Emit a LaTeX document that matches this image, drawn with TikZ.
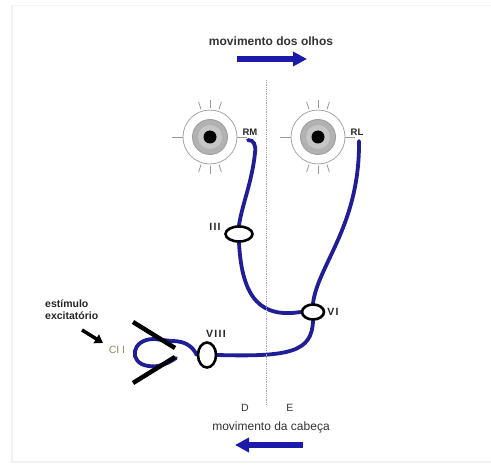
\documentclass[tikz,border=0pt]{standalone}
\usepackage{fontspec}
\setmainfont{Liberation Sans}
\usetikzlibrary{shapes.geometric,arrows.meta}
\definecolor{nerve}{RGB}{32,30,150}
\definecolor{moveblue}{RGB}{28,26,170}
\definecolor{canallabel}{RGB}{140,138,100}
\pgfdeclarelayer{paper}
\pgfdeclarelayer{nerves}
\pgfsetlayers{paper,nerves,main}

\begin{document}
\begin{tikzpicture}[x=1pt,y=-1pt,
  nerve/.style={draw=nerve,line width=3.8pt,line cap=round},
  nucleus/.style={ellipse,draw=black,line width=2.6pt,fill=white,inner sep=0pt},
  roman/.style={font=\fontsize{10.5}{12}\selectfont\bfseries\addfontfeature{LetterSpace=12},text=black!85,inner sep=0pt},
  caption/.style={text=black!80,inner sep=0pt},
  sidelabel/.style={font=\fontsize{10.5}{12}\selectfont,text=black!80,inner sep=0pt},
  eyeball/.style={circle,draw=gray!70,line width=0.8pt,fill=white,minimum size=54pt,inner sep=0pt},
  eyetick/.style={draw=gray!80,line width=0.8pt},
  movearrow/.style={draw=moveblue,line width=6pt,-{Triangle[length=14pt,width=14pt]}},
  stimarrow/.style={draw=black,line width=3.5pt,-{Triangle[length=8pt,width=10pt]}},
  cupula/.style={draw=black,line width=4.5pt}
]
\useasboundingbox (0,0) rectangle (491,468);
\begin{pgfonlayer}{paper}
  \fill[white] (0,0) rectangle (491,468);
  \draw[black!4,line width=1pt] (12,6) -- (491,6);
  \draw[black!5,line width=1.5pt] (12,6) -- (12,462) -- (491,462);
\end{pgfonlayer}

% midline between right (D) and left (E) sides
\coordinate (midtop) at (266,80);
\coordinate (midbot) at (266,405);
\draw[gray!70,line width=0.8pt,densely dotted] (midtop) -- (midbot);

% eye movement arrow
\node[caption,font=\fontsize{12}{14}\selectfont\bfseries] (eyemove) at (271,41) {movimento dos olhos};
\coordinate (eyetail) at (237,59);
\coordinate (eyehead) at (307,59);
\draw[movearrow] (eyetail) -- (eyehead);

% the two eyes
\foreach \name/\cx in {eyeR/210,eyeL/318}{
  \node[eyeball] (\name) at (\cx,137) {};
  \fill[gray!60] (\name.center) circle (17.5);
  \draw[gray!75,line width=0.9pt] (\name.center) circle (17.5);
  \fill[gray!45] (\name.center) circle (12);
  \fill[black] (\name.center) circle (6.5);
  \draw[eyetick] (\name.west) -- ++(-11,0);
  \draw[eyetick] (\name.east) -- ++(10,0);
  \foreach \a in {72,90,108,252,270,288}
    \draw[eyetick] (\name.center) ++(\a:29) -- ++(\a:8);
}
\node[roman,font=\fontsize{9.5}{11}\selectfont\bfseries] (RM) at (250,132) {RM};
\node[roman,font=\fontsize{9.5}{11}\selectfont\bfseries] (RL) at (357,132) {RL};
\coordinate (rmend) at (248,140);
\coordinate (rlend) at (359,141);

% nuclei
\node[nucleus,minimum width=27pt,minimum height=15pt] (III) at (239,234) {};
\node[nucleus,minimum width=22pt,minimum height=15pt] (VI) at (313,312) {};
\node[nucleus,minimum width=18pt,minimum height=25pt] (VIII) at (207,355) {};
\node[roman] (IIIlab) at (215,227) {III};
\node[roman] (VIlab) at (333,312) {VI};
\node[roman] (VIIIlab) at (216,334) {VIII};

% nerve pathways
\begin{pgfonlayer}{nerves}
  \draw[nerve] (rmend) .. controls (254,140) and (256,145) .. (255,153)
    .. controls (252,182) and (242,205) .. (III.north);
  \draw[nerve] (III.south) .. controls (242,300) and (262,318) .. (VI.west);
  \draw[nerve] (rlend) .. controls (360,225) and (318,265) .. (VI.north);
  \draw[nerve] (VI.south) .. controls (312,352) and (290,357) .. (VIII.east);
  \draw[nerve] (VIII.west) .. controls (193,347) and (186,341) .. (172,341)
    -- (154,339) .. controls (131,339) and (128,363) .. (148,366)
    .. controls (160,368) and (170,362) .. (176,358);
\end{pgfonlayer}

% semicircular canal with its cupula
\coordinate (cupA) at (133,322);
\coordinate (cupB) at (175,348);
\coordinate (cupC) at (175,357);
\coordinate (cupD) at (133,383);
\draw[cupula] (cupA) -- (cupB);
\draw[cupula] (cupC) -- (cupD);
\node[font=\fontsize{10.5}{12}\selectfont,text=canallabel,inner sep=0pt] (canal) at (117,350) {CI I};

% excitatory stimulus
\node[font=\fontsize{10.5}{12}\selectfont\bfseries,text=black!85,align=left,anchor=west,inner sep=0pt] (stim) at (45,310) {estímulo\\excitatório};
\coordinate (stimtail) at (82,330);
\coordinate (stimhead) at (103,343);
\draw[stimarrow] (stimtail) -- (stimhead);

% sides and head movement
\node[sidelabel] (D) at (245,408) {D};
\node[sidelabel] (E) at (290,408) {E};
\node[caption,font=\fontsize{12}{14}\selectfont] (headmove) at (271,427) {movimento da cabeça};
\coordinate (headtail) at (303,445);
\coordinate (headhead) at (235,445);
\draw[movearrow] (headtail) -- (headhead);
\end{tikzpicture}
\end{document}
